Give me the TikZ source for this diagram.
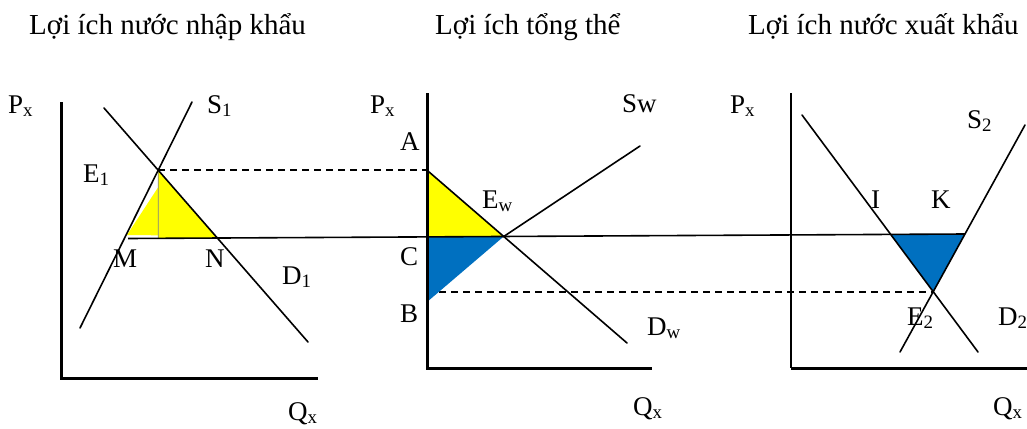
\documentclass[tikz,border=0pt]{standalone}
\usepackage{fontspec}
\setmainfont{Liberation Serif}
\usetikzlibrary{calc}
\begin{document}
\begin{tikzpicture}[x=1pt,y=-1pt,
  lbl/.style={inner sep=0pt, anchor=base west, font=\fontsize{27}{30}\selectfont},
  ttl/.style={inner sep=0pt, anchor=base west, font=\fontsize{29}{32}\selectfont},
  curve/.style={line width=1.6pt, line cap=round},
  axisline/.style={line width=3pt},
  dashline/.style={line width=1.7pt, dash pattern=on 7pt off 5pt},
  yfill/.style={fill={rgb,255:red,255;green,255;blue,0}},
  bfill/.style={fill={rgb,255:red,0;green,112;blue,192}}]
\useasboundingbox (0,0) rectangle (1027,428);

% ---------- key coordinates ----------
\coordinate (pwL) at (128,238.5);
\coordinate (pwR) at (965,234);
% panel 1
\coordinate (O1) at (61,378);
\coordinate (Y1) at (61,102);
\coordinate (X1) at (318,378);
\coordinate (s1a) at (80,328);
\coordinate (s1b) at (192,102);
\coordinate (d1a) at (104,108);
\coordinate (d1b) at (308,342);
\coordinate (E1p) at (intersection of s1a--s1b and d1a--d1b);
\coordinate (Np) at (intersection of d1a--d1b and pwL--pwR);
\coordinate (E1d) at ($(E1p)+(0,10)$);
\coordinate (E1f) at (intersection of E1p--E1d and pwL--pwR);
\coordinate (yl1) at (127,235);
\coordinate (yl2) at ($(E1p)+(0,17)$);
\coordinate (yl3) at ($(E1f)+(0,-3)$);
% panel 2
\coordinate (O2) at (427,368);
\coordinate (Y2) at (427,93);
\coordinate (X2) at (652,368);
\coordinate (Ap) at (E1p -| O2);
\coordinate (dwb) at (627,343);
\coordinate (Ewp) at (intersection of Ap--dwb and pwL--pwR);
\coordinate (Cp) at (intersection of O2--Y2 and pwL--pwR);
\coordinate (Bp) at (427,302);
\coordinate (swb) at (640,146);
% panel 3
\coordinate (O3) at (791,368);
\coordinate (Y3) at (791,93);
\coordinate (X3) at (1027,368);
\coordinate (d2a) at (802,115);
\coordinate (d2b) at (978,352);
\coordinate (s2a) at (900,352);
\coordinate (s2b) at (1025,125);
\coordinate (E2p) at (intersection of d2a--d2b and s2a--s2b);
\coordinate (Ip) at (intersection of d2a--d2b and pwL--pwR);
\coordinate (Kp) at (intersection of s2a--s2b and pwL--pwR);
\coordinate (lowL) at (E2p -| O2);

% ---------- fills ----------
\draw[dashline] (lowL) -- (E2p);
\fill[yfill] (yl1) -- (yl2) -- (yl3) -- cycle;
\fill[yfill] (E1p) -- (Np) -- (E1f) -- cycle;
\fill[yfill] (Ap) -- (Ewp) -- (Cp) -- cycle;
\fill[bfill] (Cp) -- (Ewp) -- (Bp) -- cycle;
\fill[bfill] (Ip) -- (Kp) -- (E2p) -- cycle;

% ---------- lines ----------
\draw[line width=0.8pt, gray] (E1p) -- (E1f);
\draw[dashline] (E1p) -- (Ap);
\draw[line width=1.6pt] (pwL) -- (pwR);
\draw[curve] (s1a) -- (s1b);
\draw[curve] (d1a) -- (d1b);
\draw[curve] (Ap) -- (dwb);
\draw[curve] (Ewp) -- (swb);
\draw[curve] (d2a) -- (d2b);
\draw[curve] (s2a) -- (s2b);
\draw[axisline] (Y1) -- (O1) -- (X1);
\draw[axisline] (Y2) -- (O2) -- (X2);
\draw[line width=1.8pt] (Y3) -- (O3);
\draw[axisline] (O3) -- (X3);

% ---------- titles ----------
\node[ttl] (t1) at (29,35) {Lợi ích nước nhập khẩu};
\node[ttl] (t2) at (435,35) {Lợi ích tổng thể};
\node[ttl] (t3) at (748,35) {Lợi ích nước xuất khẩu};

% ---------- labels panel 1 ----------
\node[lbl] (px1) at (8,113) {P\textsubscript{x}};
\node[lbl] (lS1) at (207,113) {S\textsubscript{1}};
\node[lbl] (lE1) at (83,182) {E\textsubscript{1}};
\node[lbl] (lM) at (113,267) {M};
\node[lbl] (lN) at (205,267) {N};
\node[lbl] (lD1) at (282,284) {D\textsubscript{1}};
\node[lbl] (qx1) at (288,420) {Q\textsubscript{x}};
% ---------- labels panel 2 ----------
\node[lbl] (px2) at (370,113) {P\textsubscript{x}};
\node[lbl] (lA) at (400,150) {A};
\node[lbl] (lEw) at (482,208) {E\textsubscript{w}};
\node[lbl] (lC) at (400,265) {C};
\node[lbl] (lB) at (400,322) {B};
\node[lbl] (lSw) at (622,112) {Sw};
\node[lbl] (lDw) at (647,335) {D\textsubscript{w}};
\node[lbl] (qx2) at (633,415) {Q\textsubscript{x}};
% ---------- labels panel 3 ----------
\node[lbl] (px3) at (730,113) {P\textsubscript{x}};
\node[lbl] (lS2) at (967,128) {S\textsubscript{2}};
\node[lbl] (lI) at (871,208) {I};
\node[lbl] (lK) at (931,208) {K};
\node[lbl] (lE2) at (907,325) {E\textsubscript{2}};
\node[lbl] (lD2) at (998,325) {D\textsubscript{2}};
\node[lbl] (qx3) at (993,415) {Q\textsubscript{x}};
\end{tikzpicture}
\end{document}
